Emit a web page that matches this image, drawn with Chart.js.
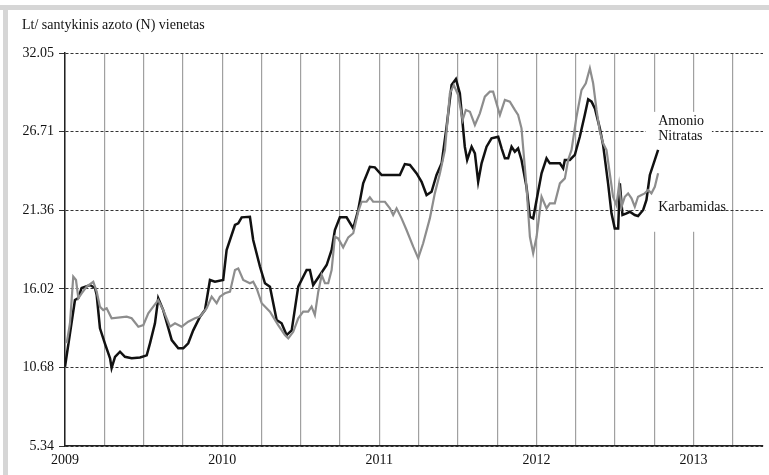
<!DOCTYPE html>
<html>
<head>
<meta charset="utf-8">
<script src="https://cdn.jsdelivr.net/npm/chart.js@4/dist/chart.umd.min.js"></script>
<style>
  html, body { margin: 0; padding: 0; background: #fff; }
  #wrap { position: absolute; left: 0; top: 0; width: 769px; height: 475px; }
</style>
</head>
<body>
<div id="wrap"><canvas id="price_chart" width="769" height="475"></canvas></div>
<script>
// months counted from January 2009
var yearLabels = ['2009', '2010', '2011', '2012', '2013'];
var yTicks = [5.34, 10.68, 16.02, 21.36, 26.71, 32.05];

// Amonio nitratas (black)
var anMonths = [0.0, 0.76, 1.02, 1.27, 1.91, 2.29, 2.42, 2.67, 3.05, 3.44, 3.56, 3.82, 4.2, 4.58, 5.09, 5.73, 6.24, 6.49, 6.87, 7.12,
  7.5, 8.15, 8.65, 9.03, 9.41, 9.79, 10.31, 10.69, 11.07, 11.45, 12.08, 12.34, 12.98, 13.23, 13.49, 14.12, 14.37, 14.89, 15.27, 15.65,
  16.16, 16.54, 16.92, 17.31, 17.81, 18.45, 18.7, 18.95, 19.47, 19.98, 20.36, 20.61, 20.99, 21.5, 22.01, 22.39, 22.77, 23.28, 23.66, 24.18,
  25.57, 25.95, 26.34, 26.85, 27.23, 27.61, 27.99, 28.37, 28.76, 29.14, 29.52, 29.85, 30.15, 30.53, 30.71, 31.05, 31.3, 31.55, 31.81, 32.19,
  32.57, 33.08, 33.34, 33.59, 33.84, 34.1, 34.35, 34.6, 34.86, 35.24, 35.5, 35.75, 36.01, 36.39, 36.77, 37.02, 37.79, 38.04, 38.17, 38.55,
  38.93, 39.31, 39.69, 39.95, 40.21, 40.46, 40.84, 41.09, 41.47, 41.73, 41.98, 42.24, 42.37, 42.57, 42.88, 43.13, 43.51, 43.76, 44.15, 44.4,
  44.66, 45.04, 45.29];
var anValues = [10.73, 15.26, 15.4, 16.08, 16.28, 16.08, 15.6, 13.34, 12.3, 11.3, 10.64, 11.4, 11.75, 11.4, 11.3, 11.36, 11.5, 12.32, 13.68, 15.38,
  14.58, 12.54, 11.98, 11.98, 12.32, 13.2, 14.13, 14.58, 16.62, 16.5, 16.62, 18.66, 20.36, 20.47, 20.88, 20.92, 19.34, 17.52, 16.4, 16.17,
  13.9, 13.68, 12.88, 13.2, 16.17, 17.3, 17.3, 16.28, 16.96, 17.64, 18.66, 20.02, 20.88, 20.88, 20.13, 21.38, 23.19, 24.32, 24.28, 23.76,
  23.76, 24.5, 24.44, 23.87, 23.3, 22.4, 22.62, 23.76, 24.55, 27.04, 29.87, 30.28, 29.31, 25.68, 24.78, 25.68, 25.23, 23.3, 24.55, 25.68,
  26.25, 26.36, 25.57, 24.89, 24.89, 25.68, 25.34, 25.57, 24.78, 22.96, 20.92, 20.81, 22.06, 23.87, 24.89, 24.55, 24.55, 24.21, 24.78, 24.78,
  25.12, 26.36, 27.84, 28.9, 28.74, 28.29, 26.93, 25.8, 23.19, 21.15, 20.13, 20.13, 23.19, 21.04, 21.15, 21.26, 21.04, 20.97, 21.38, 22.06,
  23.76, 24.78, 25.46];

// Karbamidas (grey)
var kbMonths = [0.13, 0.38, 0.63, 0.84, 1.02, 1.27, 1.66, 2.16, 2.42, 2.67, 2.92, 3.18, 3.56, 4.71, 5.09, 5.6, 5.98, 6.36, 6.74, 7.12,
  7.5, 8.02, 8.4, 8.91, 9.41, 9.92, 10.31, 10.82, 11.2, 11.58, 11.83, 12.21, 12.6, 12.98, 13.23, 13.61, 14.12, 14.37, 14.63, 15.02,
  15.65, 16.28, 16.79, 17.05, 17.43, 17.81, 18.19, 18.57, 18.83, 19.08, 19.34, 19.6, 19.85, 20.1, 20.36, 20.61, 20.86, 21.24, 21.63, 22.01,
  22.39, 22.65, 23.03, 23.28, 23.53, 24.43, 24.81, 25.06, 25.32, 25.7, 26.08, 26.59, 26.97, 27.35, 27.86, 28.24, 28.63, 29.01, 29.39, 29.69,
  30.02, 30.36, 30.61, 30.92, 31.3, 31.68, 32.06, 32.44, 32.69, 33.21, 33.59, 33.97, 34.35, 34.6, 34.86, 35.24, 35.5, 35.75, 36.01, 36.39,
  36.77, 37.02, 37.4, 37.79, 38.17, 38.42, 38.68, 39.06, 39.44, 39.77, 40.08, 40.33, 40.59, 40.84, 41.09, 41.35, 41.6, 41.85, 42.11, 42.31,
  42.5, 42.75, 43.0, 43.26, 43.51, 43.76, 44.02, 44.27, 44.53, 44.78, 45.04, 45.29];
var kbValues = [12.32, 13.68, 16.85, 16.62, 15.38, 15.72, 16.17, 16.5, 15.83, 14.81, 14.58, 14.7, 14.02, 14.13, 14.02, 13.45, 13.56, 14.36, 14.81, 15.26,
  14.58, 13.45, 13.68, 13.45, 13.79, 14.02, 14.13, 14.7, 15.49, 15.04, 15.49, 15.72, 15.83, 17.3, 17.41, 16.62, 16.4, 16.5, 16.06, 15.04,
  14.47, 13.56, 12.88, 12.66, 13.1, 14.02, 14.47, 14.47, 14.81, 14.24, 15.83, 16.96, 16.4, 16.4, 17.3, 19.56, 19.45, 18.84, 19.52, 19.8,
  21.26, 21.94, 21.94, 22.24, 21.94, 21.94, 21.49, 21.04, 21.49, 20.81, 20.02, 18.89, 18.1, 19.12, 20.81, 22.51, 23.87, 25.46, 29.31, 29.87,
  29.2, 27.5, 28.18, 28.06, 27.16, 27.95, 29.08, 29.42, 29.42, 27.84, 28.86, 28.74, 28.18, 27.84, 26.93, 22.96, 19.56, 18.44, 19.56, 22.28,
  21.49, 21.83, 21.83, 23.19, 23.53, 24.78, 25.46, 27.72, 29.53, 29.99, 31.01, 29.99, 28.18, 26.71, 25.91, 25.46, 23.87, 22.28, 21.72, 23.08,
  21.6, 22.28, 22.51, 22.17, 21.6, 22.28, 22.4, 22.51, 22.74, 22.51, 22.96, 23.87];

function pairs(xs, ys) {
  return xs.map(function (x, i) { return { x: x, y: ys[i] }; });
}

var serif = "'Liberation Serif', 'DejaVu Serif', serif";

// grey frame, title, and the series names
var decorPlugin = {
  id: 'decor',
  beforeDraw: function (chart) {
    var c = chart.ctx;
    c.save();
    c.fillStyle = '#fff';
    c.fillRect(0, 0, chart.width, chart.height);
    c.fillStyle = '#d6d6d6';
    c.fillRect(0, 5, chart.width, 5);
    c.fillRect(3, 5, 5, chart.height - 5);
    c.fillStyle = '#111';
    c.font = '14px ' + serif;
    c.textBaseline = 'alphabetic';
    c.fillText('Lt/ santykinis azoto (N) vienetas', 22, 29);
    c.restore();
  },
  beforeDatasetsDraw: function (chart) {
    var c = chart.ctx, x = chart.scales.x, y = chart.scales.y;
    c.save();
    c.fillStyle = '#fff';
    var l = x.getPixelForValue(44.35), r = x.getPixelForValue(49.4);
    var t = y.getPixelForValue(28.05), b = y.getPixelForValue(19.9);
    c.fillRect(l, t, r - l, b - t);
    c.restore();
  },
  afterDatasetsDraw: function (chart) {
    var c = chart.ctx, x = chart.scales.x, y = chart.scales.y;
    c.save();
    c.fillStyle = '#111';
    c.font = '14px ' + serif;
    c.textBaseline = 'alphabetic';
    var lx = x.getPixelForValue(45.3);
    c.fillText('Amonio', lx, y.getPixelForValue(27.16));
    c.fillText('Nitratas', lx, y.getPixelForValue(26.14));
    c.fillText('Karbamidas', lx, y.getPixelForValue(21.31));
    c.restore();
  }
};

var ctx = document.getElementById('price_chart').getContext('2d');
var chart = new Chart(ctx, {
  type: 'line',
  data: {
    datasets: [
      {
        label: 'Karbamidas',
        data: pairs(kbMonths, kbValues),
        borderColor: '#8d8d8d',
        borderWidth: 2.2,
        pointRadius: 0,
        tension: 0
      },
      {
        label: 'Amonio nitratas',
        data: pairs(anMonths, anValues),
        borderColor: '#111',
        borderWidth: 2.5,
        pointRadius: 0,
        tension: 0
      }
    ]
  },
  options: {
    responsive: false,
    animation: false,
    layout: { padding: { left: 0, top: 53, right: 6, bottom: 0 } },
    plugins: { legend: { display: false }, tooltip: { enabled: false } },
    scales: {
      x: {
        type: 'linear',
        min: 0,
        max: 53.3,
        afterFit: function (scale) { scale.height = 29; },
        ticks: {
          stepSize: 3,
          includeBounds: false,
          autoSkip: false,
          maxRotation: 0,
          padding: 6,
          color: '#111',
          font: { family: serif, size: 14 },
          callback: function (v) { return v % 12 === 0 ? yearLabels[v / 12] : ''; }
        },
        grid: { color: '#a0a0a0', lineWidth: 1.2, drawTicks: false },
        border: { color: '#222', width: 1.5 }
      },
      y: {
        min: 5.34,
        max: 32.05,
        afterFit: function (scale) { scale.width = 65; },
        afterBuildTicks: function (scale) {
          scale.ticks = yTicks.map(function (v) { return { value: v }; });
        },
        ticks: {
          padding: 5,
          color: '#111',
          font: { family: serif, size: 14 },
          callback: function (v) { return v.toFixed(2); }
        },
        grid: { color: '#333', lineWidth: 1, tickLength: 6, tickColor: '#333' },
        border: { color: '#222', width: 1.5, dash: [3, 2] }
      }
    }
  },
  plugins: [decorPlugin]
});
</script>
</body>
</html>
